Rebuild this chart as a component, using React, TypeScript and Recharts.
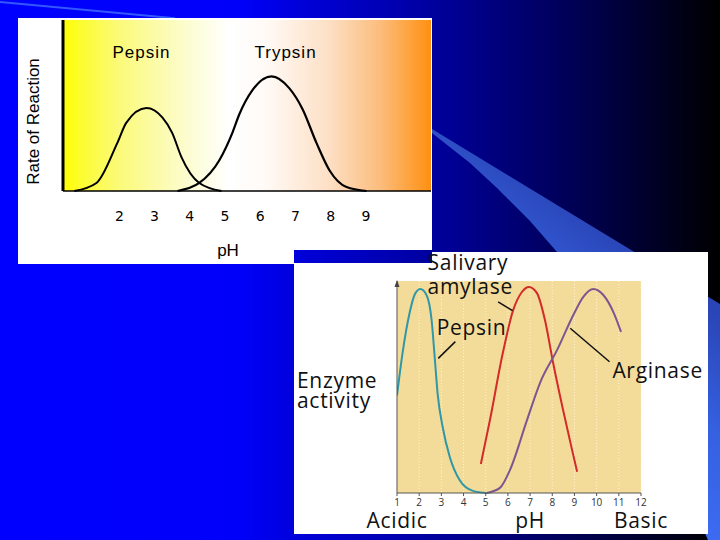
import React from 'react';
import { LineChart, Line, XAxis, YAxis, CartesianGrid, ReferenceArea, ReferenceDot, ReferenceLine, Label } from 'recharts';

// ---- upper chart: Rate of Reaction vs pH ----
const topTicks = [2, 3, 4, 5, 6, 7, 8, 9];
const topPepsinPh = [0.72, 1.35, 1.94, 2.2, 2.77, 3.22, 3.5, 3.76, 4.27, 4.9];
const topPepsinRate = [0, 4.7, 28, 40, 48.5, 43, 34, 20, 4.7, 0];
const trypsinPh = [3.65, 4.27, 4.84, 5.21, 5.41, 5.78, 6.32, 6.83, 7.2, 7.6, 7.97, 8.45, 9.02];
const trypsinRate = [0, 4.7, 18, 34, 45, 59, 67, 60, 48, 28, 12, 2.3, 0];

// ---- lower chart: Enzyme activity vs pH ----
const lowTicks = [1, 2, 3, 4, 5, 6, 7, 8, 9, 10, 11, 12];
const scaleWords = [
  { ph: 1, text: 'Acidic' },
  { ph: 7, text: 'pH' },
  { ph: 12, text: 'Basic' },
];
const pepsinPh = [1.0, 1.25, 1.57, 1.79, 2.05, 2.33, 2.56, 2.7, 2.83, 3.06, 3.38, 3.83, 4.42, 5.05];
const pepsinAct = [46, 66, 85, 93.4, 96.2, 93.4, 81.6, 64, 47, 31, 17, 6, 1, 0];
const amylasePh = [4.78, 5.19, 5.77, 6.23, 6.63, 6.95, 7.31, 7.67, 8.04, 8.49, 8.9, 9.12];
const amylaseAct = [13.7, 34.4, 66, 86, 94.8, 97.2, 94.3, 81.6, 61.3, 39, 20, 10];
const arginasePh = [5.05, 5.64, 6.09, 6.86, 7.45, 8.22, 8.95, 9.4, 9.85, 10.3, 10.77, 11.1];
const arginaseAct = [0, 2.4, 10.8, 34.4, 52, 67.5, 84, 92.5, 96.2, 93.4, 85, 76];

const pts = (xs: number[], ys: number[]) => xs.map((ph, i) => ({ ph, v: ys[i] }));

const noteFont = { fontSize: 21, fontFamily: 'Open Sans, sans-serif', fontWeight: 500, fill: '#111', letterSpacing: 0.7 };
const topFont = { fontSize: 17, fontFamily: 'Liberation Sans, Arial', fill: '#000' };

const RateLabel = ({ viewBox }: any) => {
  const cx = viewBox.x + 15;
  const cy = viewBox.y + viewBox.height / 2 + 16;
  return (
    <text x={cx} y={cy} transform={`rotate(-90 ${cx} ${cy})`} textAnchor="middle" dominantBaseline="central" {...topFont}>
      Rate of Reaction
    </text>
  );
};

const ActivityLabel = ({ viewBox }: any) => {
  const x = viewBox.x + 3;
  const cy = viewBox.y + viewBox.height / 2;
  return (
    <text x={x} y={cy} {...noteFont}>
      <tspan x={x} dy={1}>Enzyme</tspan>
      <tspan x={x} dy={20}>activity</tspan>
    </text>
  );
};

const Arrow = (p: any) => (
  <path d={`M${p.cx - 2.5},${p.cy + 6}L${p.cx},${p.cy - 1}L${p.cx + 2.5},${p.cy + 6}Z`} fill="#444" />
);

export default function App() {
  return (
    <div style={{ position: 'absolute', left: 0, top: 0, width: 720, height: 540, overflow: 'hidden',
      background: 'linear-gradient(90deg, #0000ff 0%, #0000fa 33%, #0000d8 42%, #0000b0 55%, #000080 68%, #000048 83%, #000010 96%, #000000 100%)' }}>
      {/* slide decoration */}
      <div style={{ position: 'absolute', left: 0, top: 1, width: 176, height: 2, background: '#3358ff',
        transform: 'rotate(5.3deg)', transformOrigin: '0 0' }} />
      <div style={{ position: 'absolute', left: 432, top: 129, width: 288, height: 411,
        clipPath: 'polygon(0px 0px, 288px 175px, 288px 411px, 276px 411px, 168px 171px, 125px 123px, 98px 92px, 65px 59px, 38px 34px, 0px 4px)',
        background: 'linear-gradient(218deg, #1e2f9c 0%, #2a46b8 30%, #3560e0 48%, #3e6ef6 70%, #3e6ef6 100%)' }} />

      {/* white panels */}
      <div style={{ position: 'absolute', left: 18, top: 18, width: 414, height: 232, background: '#fff' }} />
      <div style={{ position: 'absolute', left: 18, top: 250, width: 276, height: 14, background: '#fff' }} />
      <div style={{ position: 'absolute', left: 294, top: 263, width: 414, height: 271, background: '#fff' }} />
      <div style={{ position: 'absolute', left: 432, top: 252, width: 276, height: 12, background: '#fff' }} />

      {/* upper chart */}
      <div style={{ position: 'absolute', left: 18, top: 18 }}>
        <LineChart width={414} height={246} margin={{ top: 2, right: 1, left: 0, bottom: 0 }}>
          <defs>
            <linearGradient id="phBand" x1="0" y1="0" x2="1" y2="0">
              <stop offset="0%" stopColor="#ffff00" />
              <stop offset="5%" stopColor="#fcfc30" />
              <stop offset="15%" stopColor="#fbfa78" />
              <stop offset="32%" stopColor="#fcfcc8" />
              <stop offset="45%" stopColor="#ffffff" />
              <stop offset="55%" stopColor="#fffaf6" />
              <stop offset="72%" stopColor="#fde0c6" />
              <stop offset="86%" stopColor="#fcbd7e" />
              <stop offset="100%" stopColor="#ff9010" />
            </linearGradient>
          </defs>
          <ReferenceArea x1={0.4} x2={10.85} y1={0} y2={100} fill="url(#phBand)" fillOpacity={1} stroke="none" ifOverflow="hidden" />
          <XAxis type="number" dataKey="ph" domain={[0.4, 10.85]} ticks={topTicks} allowDataOverflow height={73}
            tickSize={0} tickMargin={20} tickLine={false} axisLine={{ stroke: '#000', strokeWidth: 1.5 }}
            tick={{ fill: '#000', fontSize: 14, fontFamily: 'DejaVu Sans' }}>
            <Label value="pH" position="insideBottom" offset={8} dx={-19} {...topFont} />
          </XAxis>
          <YAxis type="number" domain={[0, 100]} width={45} tick={false} tickLine={false}
            axisLine={{ stroke: '#000', strokeWidth: 3 }}>
            <Label content={<RateLabel />} />
          </YAxis>
          <Line data={pts(topPepsinPh, topPepsinRate)} dataKey="v" type="monotone" stroke="#000" strokeWidth={2} dot={false} isAnimationActive={false} />
          <Line data={pts(trypsinPh, trypsinRate)} dataKey="v" type="monotone" stroke="#000" strokeWidth={2.2} dot={false} isAnimationActive={false} />
          <ReferenceDot x={2.63} y={81.3} r={0} ifOverflow="visible"
            label={{ value: 'Pepsin', position: 'center', letterSpacing: 1, ...topFont }} />
          <ReferenceDot x={6.72} y={81.3} r={0} ifOverflow="visible"
            label={{ value: 'Trypsin', position: 'center', letterSpacing: 1, ...topFont }} />
        </LineChart>
      </div>

      {/* lower chart */}
      <div style={{ position: 'absolute', left: 294, top: 244 }}>
        <LineChart width={414} height={290} margin={{ top: 37, right: 67, left: 0, bottom: 26 }}>
          <CartesianGrid xAxisId="ph" horizontal={false} stroke="#fff4d4" strokeDasharray="1 2" fill="#f3dc9a" fillOpacity={1} />
          <XAxis xAxisId="ph" type="number" dataKey="ph" domain={[1, 12]} ticks={lowTicks} allowDataOverflow height={15}
            tickSize={3} tickMargin={3} axisLine={{ stroke: '#555' }} tickLine={{ stroke: '#555' }}
            tick={{ fontSize: 10, fill: '#333', fontFamily: 'Open Sans, sans-serif' }} />
          <YAxis type="number" domain={[0, 100]} width={103} tick={false} tickLine={false} axisLine={{ stroke: '#555' }}>
            <Label content={<ActivityLabel />} />
          </YAxis>
          <ReferenceDot xAxisId="ph" x={1} y={100} r={3} ifOverflow="visible" shape={Arrow} />
          <Line xAxisId="ph" data={pts(pepsinPh, pepsinAct)} dataKey="v" type="monotone" stroke="#2f97a8" strokeWidth={2} dot={false} isAnimationActive={false} />
          <Line xAxisId="ph" data={pts(amylasePh, amylaseAct)} dataKey="v" type="monotone" stroke="#d42a2a" strokeWidth={2} dot={false} isAnimationActive={false} />
          <Line xAxisId="ph" data={pts(arginasePh, arginaseAct)} dataKey="v" type="monotone" stroke="#7d5590" strokeWidth={2} dot={false} isAnimationActive={false} />
          <ReferenceLine xAxisId="ph" segment={[{ x: 5.56, y: 90.2 }, { x: 6.21, y: 86 }]} stroke="#111" strokeWidth={1.5} ifOverflow="visible" />
          <ReferenceLine xAxisId="ph" segment={[{ x: 3.63, y: 71.4 }, { x: 2.86, y: 63.5 }]} stroke="#111" strokeWidth={1.5} ifOverflow="visible" />
          <ReferenceLine xAxisId="ph" segment={[{ x: 8.81, y: 77.7 }, { x: 10.58, y: 61.9 }]} stroke="#111" strokeWidth={1.5} ifOverflow="visible" />
          <ReferenceDot xAxisId="ph" x={2.38} y={108.7} r={0} ifOverflow="visible" label={{ value: 'Salivary', position: 'right', offset: 0, ...noteFont }} />
          <ReferenceDot xAxisId="ph" x={2.38} y={97.4} r={0} ifOverflow="visible" label={{ value: 'amylase', position: 'right', offset: 0, ...noteFont }} />
          <ReferenceDot xAxisId="ph" x={2.79} y={78} r={0} ifOverflow="visible" label={{ value: 'Pepsin', position: 'right', offset: 0, ...noteFont }} />
          <ReferenceDot xAxisId="ph" x={10.71} y={57.8} r={0} ifOverflow="visible" label={{ value: 'Arginase', position: 'right', offset: 0, ...noteFont }} />
          {scaleWords.map((w) => (
            <ReferenceDot key={w.text} xAxisId="ph" x={w.ph} y={-13.2} r={0} ifOverflow="visible"
              label={{ value: w.text, position: 'center', ...noteFont }} />
          ))}
        </LineChart>
      </div>
    </div>
  );
}
